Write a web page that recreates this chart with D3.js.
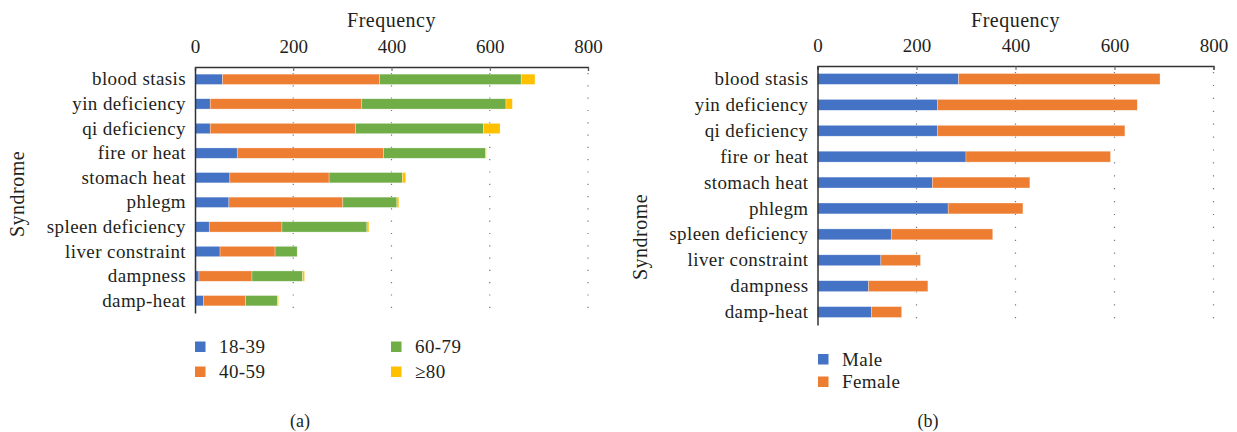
<!DOCTYPE html>
<html>
<head>
<meta charset="utf-8">
<script src="https://cdn.jsdelivr.net/npm/d3@7"></script>
<style>
  body { margin: 0; background: #fff; }
  text { font-family: "Liberation Serif", "DejaVu Serif", serif; fill: #231f20; }
</style>
</head>
<body>
<svg id="chart" width="1237" height="432"></svg>
<script>
var categories = ["blood stasis", "yin deficiency", "qi deficiency", "fire or heat", "stomach heat",
  "phlegm", "spleen deficiency", "liver constraint", "dampness", "damp-heat"];

// panel (a): age groups
var ageGroups = ["18-39", "40-59", "60-79", "\u226580"];
var age18_39 = [56, 31, 31, 86, 71, 69, 29, 51, 8, 17];
var age40_59 = [320, 308, 296, 298, 202, 232, 148, 112, 108, 86];
var age60_79 = [288, 294, 260, 207, 149, 110, 173, 45, 103, 65];
var age80 = [28, 13, 34, 2, 7, 4, 4, 0, 4, 2];

// panel (b): gender
var genders = ["Male", "Female"];
var male = [285, 242, 242, 300, 232, 264, 149, 128, 103, 109];
var female = [407, 404, 379, 292, 197, 151, 205, 80, 120, 61];

var xTicks = [0, 200, 400, 600, 800];
var colors = ["#4472c4", "#ed7d31", "#70ad47", "#ffc000"];

var svg = d3.select("#chart");

function drawPanel(opt) {
  var g = svg.append("g");
  var rows = categories.map(function(c, i) {
    var r = {cat: c};
    opt.keys.forEach(function(k, j) { r[k] = opt.series[j][i]; });
    return r;
  });

  var x = d3.scaleLinear().domain([0, 800]).range([opt.x0, opt.x1]);
  var y = d3.scaleBand().domain(categories).range([opt.y0, opt.y1]).paddingInner(0.58).paddingOuter(0.29);

  // dotted grid
  g.selectAll(".grid").data(xTicks.slice(1)).enter().append("line")
    .attr("x1", function(d) { return x(d); }).attr("x2", function(d) { return x(d); })
    .attr("y1", opt.y0 + 6).attr("y2", opt.y1)
    .attr("stroke", "#777").attr("stroke-width", 1.2)
    .attr("stroke-dasharray", "1.2 " + (opt.dot - 1.2));

  var stack = d3.stack().keys(opt.keys)(rows);
  g.selectAll(".layer").data(stack).enter().append("g")
    .attr("fill", function(d, i) { return colors[i]; })
    .selectAll("rect").data(function(d) { return d; }).enter().append("rect")
    .attr("x", function(d) { return x(d[0]); })
    .attr("width", function(d) { return Math.max(0, x(d[1]) - x(d[0])); })
    .attr("y", function(d) { return y(d.data.cat); })
    .attr("height", y.bandwidth())
    .attr("stroke", "#fff").attr("stroke-opacity", 0.5).attr("stroke-width", 0.6);

  // top axis
  var xAxis = d3.axisTop(x).tickValues(xTicks).tickSize(-4).tickPadding(14);
  var ax = g.append("g").attr("transform", "translate(0," + opt.y0 + ")").call(xAxis);
  ax.select(".domain").attr("stroke", "#333").attr("stroke-width", 1.3);
  ax.selectAll(".tick line").attr("stroke", "#555");
  ax.selectAll(".tick text").attr("font-size", 19).attr("fill", "#231f20")
    .style("font-family", "Liberation Serif, serif");

  // left axis
  var yAxis = d3.axisLeft(y).tickSize(0).tickPadding(9);
  var ay = g.append("g").attr("transform", "translate(" + opt.x0 + ",0)").call(yAxis);
  ay.select(".domain").attr("stroke", "#333").attr("stroke-width", 1.5);
  ay.selectAll(".tick text").attr("font-size", 19).attr("fill", "#231f20")
    .attr("letter-spacing", 0.4).style("font-family", "Liberation Serif, serif");

  g.append("text").attr("x", (opt.x0 + opt.x1) / 2).attr("y", 27)
    .attr("text-anchor", "middle").attr("font-size", 20).attr("letter-spacing", 0.5).text("Frequency");

  g.append("text").attr("transform", "translate(" + opt.ytx + "," + opt.yty + ") rotate(-90)")
    .attr("text-anchor", "middle").attr("font-size", 20).attr("letter-spacing", 0.5).text("Syndrome");

  // legend
  var lg = g.selectAll(".leg").data(opt.keys).enter().append("g")
    .attr("transform", function(d, i) { return "translate(" + opt.legPos[i][0] + "," + opt.legPos[i][1] + ")"; });
  lg.append("rect").attr("width", 10.5).attr("height", 10.5).attr("y", -10.5)
    .attr("fill", function(d, i) { return colors[i]; });
  lg.append("text").attr("x", 24).attr("y", 1).attr("font-size", 19).attr("letter-spacing", 0.4)
    .text(function(d) { return d; });

  g.append("text").attr("x", opt.capX).attr("y", 427).attr("text-anchor", "middle")
    .attr("font-size", 18).text(opt.caption);
}

drawPanel({
  keys: ageGroups,
  series: [age18_39, age40_59, age60_79, age80],
  x0: 195, x1: 588, y0: 67, y1: 313, dot: 12.3,
  ytx: 24, yty: 194,
  legPos: [[195, 352], [195, 377], [391, 352], [391, 377]],
  capX: 300, caption: "(a)"
});

drawPanel({
  keys: genders,
  series: [male, female],
  x0: 817.5, x1: 1213.5, y0: 66, y1: 325, dot: 12.9,
  ytx: 647, yty: 237,
  legPos: [[818, 364.5], [818, 387]],
  capX: 928, caption: "(b)"
});
</script>
</body>
</html>
